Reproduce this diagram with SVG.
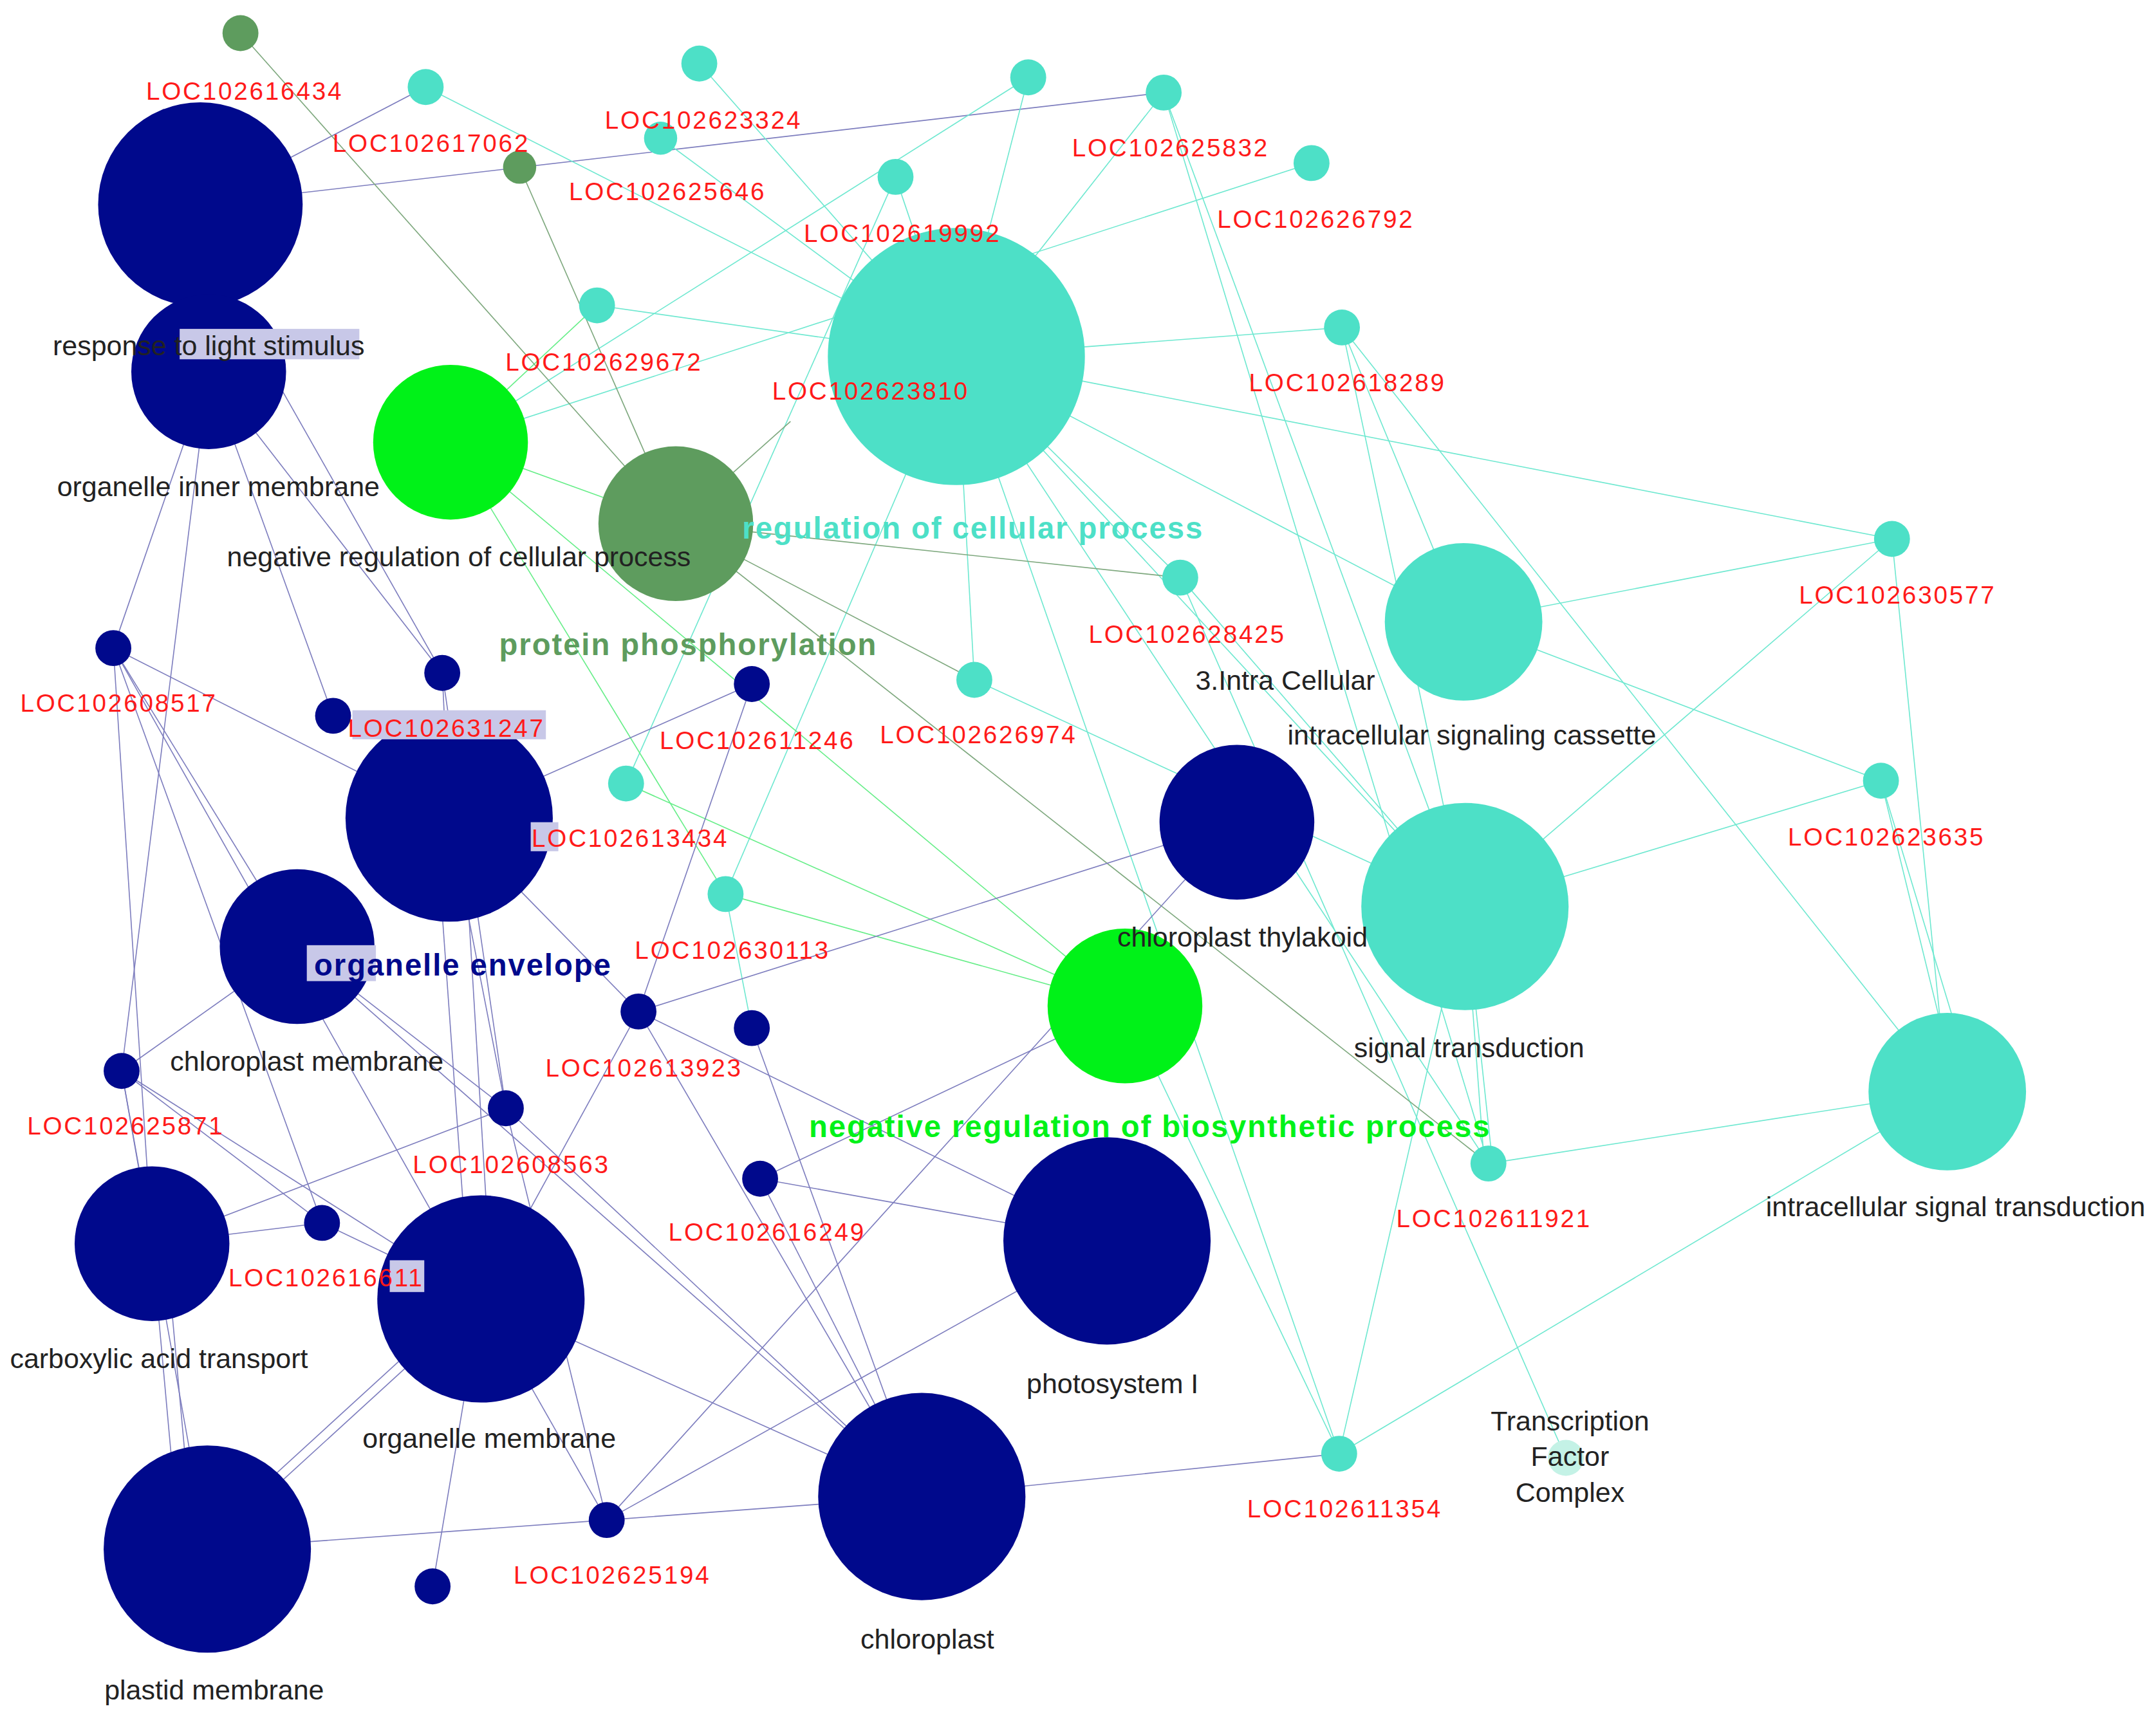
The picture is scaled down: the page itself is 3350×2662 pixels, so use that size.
<svg xmlns="http://www.w3.org/2000/svg" width="3350" height="2662" viewBox="0 0 3350 2662">
<style>
.n{fill:#00098c}.t{fill:#4de0c7}.g{fill:#00f218}.o{fill:#5e9c5e}.f{fill:#c4f2e6}
.en line{stroke-width:0.75;fill:none}
.ln{stroke:#7d7dbe}.lt{stroke:#6ee8d0}.lg{stroke:#66ee88}.lo{stroke:#7ea87e}
text{font-family:"Liberation Sans",Arial,sans-serif}
.r{fill:#ff1a1a;font-size:18px;letter-spacing:1.3px;text-anchor:middle}
.k{fill:#222;font-size:20px;text-anchor:middle}
.b{font-size:22px;font-weight:bold;letter-spacing:0.9px;text-anchor:middle}
</style>
<rect width="3350" height="2662" fill="#fff"/>
<g transform="scale(2.1474)">
<g id="connectors" class="en">
<line class="ln" x1="145" y1="148" x2="842" y2="67"/>
<line class="ln" x1="145" y1="148" x2="308" y2="63"/>
<line class="lt" x1="308" y1="63" x2="692" y2="258"/>
<line class="lt" x1="506" y1="46" x2="692" y2="258"/>
<line class="lt" x1="744" y1="56" x2="692" y2="258"/>
<line class="lt" x1="744" y1="56" x2="326" y2="320"/>
<line class="lt" x1="842" y1="67" x2="692" y2="258"/>
<line class="lt" x1="842" y1="67" x2="1060" y2="656"/>
<line class="lt" x1="842" y1="67" x2="1077" y2="842"/>
<line class="lt" x1="949" y1="118" x2="326" y2="320"/>
<line class="lt" x1="648" y1="128" x2="692" y2="258"/>
<line class="lt" x1="478" y1="100" x2="692" y2="258"/>
<line class="lt" x1="432" y1="221" x2="692" y2="258"/>
<line class="lt" x1="971" y1="237" x2="692" y2="258"/>
<line class="lt" x1="971" y1="237" x2="1059" y2="450"/>
<line class="lt" x1="971" y1="237" x2="1060" y2="656"/>
<line class="lt" x1="971" y1="237" x2="1409" y2="790"/>
<line class="lt" x1="692" y1="258" x2="1369" y2="390"/>
<line class="lt" x1="692" y1="258" x2="1059" y2="450"/>
<line class="lt" x1="692" y1="258" x2="854" y2="418"/>
<line class="lt" x1="692" y1="258" x2="705" y2="492"/>
<line class="lt" x1="692" y1="258" x2="525" y2="647"/>
<line class="lt" x1="692" y1="258" x2="1077" y2="842"/>
<line class="lt" x1="692" y1="258" x2="1060" y2="656"/>
<line class="lt" x1="692" y1="258" x2="969" y2="1052"/>
<line class="lt" x1="1369" y1="390" x2="1059" y2="450"/>
<line class="lt" x1="1369" y1="390" x2="1060" y2="656"/>
<line class="lt" x1="1369" y1="390" x2="1409" y2="790"/>
<line class="lt" x1="1361" y1="565" x2="1059" y2="450"/>
<line class="lt" x1="1361" y1="565" x2="1060" y2="656"/>
<line class="lt" x1="1361" y1="565" x2="1404" y2="740"/>
<line class="lt" x1="1361" y1="565" x2="1414" y2="740"/>
<line class="lt" x1="1409" y1="790" x2="1077" y2="842"/>
<line class="lt" x1="1409" y1="790" x2="969" y2="1052"/>
<line class="lt" x1="1060" y1="656" x2="1074" y2="842"/>
<line class="lt" x1="1060" y1="656" x2="1080" y2="842"/>
<line class="lt" x1="1060" y1="656" x2="969" y2="1052"/>
<line class="lt" x1="854" y1="418" x2="1060" y2="656"/>
<line class="lt" x1="854" y1="418" x2="1133" y2="1055"/>
<line class="lt" x1="705" y1="492" x2="1060" y2="656"/>
<line class="lt" x1="814" y1="728" x2="969" y2="1052"/>
<line class="lt" x1="453" y1="567" x2="648" y2="128"/>
<line class="lt" x1="525" y1="647" x2="544" y2="744"/>
<line class="lg" x1="814" y1="728" x2="453" y2="567"/>
<line class="lg" x1="814" y1="728" x2="525" y2="647"/>
<line class="lg" x1="814" y1="728" x2="326" y2="320"/>
<line class="lg" x1="326" y1="320" x2="432" y2="221"/>
<line class="lg" x1="326" y1="320" x2="489" y2="379"/>
<line class="lg" x1="326" y1="320" x2="525" y2="647"/>
<line class="lo" x1="174" y1="24" x2="489" y2="379"/>
<line class="lo" x1="376" y1="121" x2="489" y2="379"/>
<line class="lo" x1="489" y1="379" x2="572" y2="305"/>
<line class="lo" x1="489" y1="379" x2="854" y2="418"/>
<line class="lo" x1="489" y1="379" x2="1077" y2="842"/>
<line class="lo" x1="489" y1="379" x2="705" y2="492"/>
<line class="ln" x1="151" y1="269" x2="82" y2="469"/>
<line class="ln" x1="151" y1="269" x2="88" y2="775"/>
<line class="ln" x1="151" y1="269" x2="241" y2="518"/>
<line class="ln" x1="151" y1="269" x2="320" y2="487"/>
<line class="ln" x1="180" y1="240" x2="320" y2="487"/>
<line class="ln" x1="82" y1="469" x2="325" y2="592"/>
<line class="ln" x1="82" y1="469" x2="215" y2="685"/>
<line class="ln" x1="82" y1="469" x2="348" y2="940"/>
<line class="ln" x1="82" y1="469" x2="110" y2="900"/>
<line class="ln" x1="82" y1="469" x2="233" y2="885"/>
<line class="ln" x1="320" y1="487" x2="325" y2="592"/>
<line class="ln" x1="320" y1="487" x2="366" y2="802"/>
<line class="ln" x1="544" y1="495" x2="325" y2="592"/>
<line class="ln" x1="544" y1="495" x2="462" y2="732"/>
<line class="ln" x1="325" y1="592" x2="462" y2="732"/>
<line class="ln" x1="325" y1="592" x2="366" y2="802"/>
<line class="ln" x1="315" y1="592" x2="340" y2="940"/>
<line class="ln" x1="335" y1="592" x2="356" y2="940"/>
<line class="ln" x1="215" y1="685" x2="88" y2="775"/>
<line class="ln" x1="215" y1="685" x2="667" y2="1083"/>
<line class="ln" x1="215" y1="685" x2="366" y2="802"/>
<line class="ln" x1="88" y1="775" x2="110" y2="900"/>
<line class="ln" x1="88" y1="775" x2="233" y2="885"/>
<line class="ln" x1="88" y1="775" x2="348" y2="940"/>
<line class="ln" x1="88" y1="775" x2="150" y2="1121"/>
<line class="ln" x1="895" y1="595" x2="462" y2="732"/>
<line class="ln" x1="895" y1="595" x2="439" y2="1100"/>
<line class="ln" x1="462" y1="732" x2="348" y2="940"/>
<line class="ln" x1="462" y1="732" x2="667" y2="1083"/>
<line class="ln" x1="462" y1="732" x2="801" y2="898"/>
<line class="ln" x1="544" y1="744" x2="667" y2="1083"/>
<line class="ln" x1="366" y1="802" x2="110" y2="900"/>
<line class="ln" x1="366" y1="802" x2="667" y2="1083"/>
<line class="ln" x1="366" y1="802" x2="439" y2="1100"/>
<line class="ln" x1="550" y1="853" x2="801" y2="898"/>
<line class="ln" x1="550" y1="853" x2="667" y2="1083"/>
<line class="ln" x1="550" y1="853" x2="814" y2="728"/>
<line class="ln" x1="233" y1="885" x2="110" y2="900"/>
<line class="ln" x1="233" y1="885" x2="348" y2="940"/>
<line class="ln" x1="348" y1="940" x2="150" y2="1121"/>
<line class="ln" x1="338" y1="940" x2="140" y2="1121"/>
<line class="ln" x1="348" y1="940" x2="313" y2="1148"/>
<line class="ln" x1="348" y1="940" x2="439" y2="1100"/>
<line class="ln" x1="348" y1="940" x2="667" y2="1083"/>
<line class="ln" x1="110" y1="900" x2="130" y2="1121"/>
<line class="ln" x1="120" y1="900" x2="140" y2="1121"/>
<line class="ln" x1="150" y1="1121" x2="439" y2="1100"/>
<line class="ln" x1="439" y1="1100" x2="667" y2="1083"/>
<line class="ln" x1="439" y1="1100" x2="801" y2="898"/>
<line class="ln" x1="667" y1="1083" x2="969" y2="1052"/>
</g>
<g id="nodes">
<g id="n1"><circle class="o" cx="174" cy="24" r="13"/></g>
<g id="n2"><circle class="o" cx="376" cy="121" r="12"/></g>
<g id="n3"><circle class="t" cx="308" cy="63" r="13"/></g>
<g id="n4"><circle class="t" cx="506" cy="46" r="13"/></g>
<g id="n5"><circle class="t" cx="478" cy="100" r="12"/></g>
<g id="n6"><circle class="t" cx="744" cy="56" r="13"/></g>
<g id="n7"><circle class="t" cx="842" cy="67" r="13"/></g>
<g id="n8"><circle class="t" cx="949" cy="118" r="13"/></g>
<g id="n9"><circle class="t" cx="648" cy="128" r="13"/></g>
<g id="n10"><circle class="t" cx="432" cy="221" r="13"/></g>
<g id="n11"><circle class="t" cx="971" cy="237" r="13"/></g>
<g id="n12"><circle class="t" cx="854" cy="418" r="13"/></g>
<g id="n13"><circle class="t" cx="705" cy="492" r="13"/></g>
<g id="n14"><circle class="t" cx="1369" cy="390" r="13"/></g>
<g id="n15"><circle class="t" cx="1361" cy="565" r="13"/></g>
<g id="n16"><circle class="t" cx="453" cy="567" r="13"/></g>
<g id="n17"><circle class="t" cx="525" cy="647" r="13"/></g>
<g id="n18"><circle class="t" cx="1077" cy="842" r="13"/></g>
<g id="n19"><circle class="t" cx="969" cy="1052" r="13"/></g>
<g id="n20"><circle class="f" cx="1133" cy="1055" r="13"/></g>
<g id="reg"><circle class="t" cx="692" cy="258" r="93"/></g>
<g id="cassette"><circle class="t" cx="1059" cy="450" r="57"/></g>
<g id="signal"><circle class="t" cx="1060" cy="656" r="75"/></g>
<g id="intrasig"><circle class="t" cx="1409" cy="790" r="57"/></g>
<g id="negcell"><circle class="g" cx="326" cy="320" r="56"/></g>
<g id="negbio"><circle class="g" cx="814" cy="728" r="56"/></g>
<g id="phos"><circle class="o" cx="489" cy="379" r="56"/></g>
<g id="light"><circle class="n" cx="145" cy="148" r="74"/></g>
<g id="inner"><circle class="n" cx="151" cy="269" r="56"/></g>
<g id="envelope"><circle class="n" cx="325" cy="592" r="75"/></g>
<g id="chlmem"><circle class="n" cx="215" cy="685" r="56"/></g>
<g id="carbox"><circle class="n" cx="110" cy="900" r="56"/></g>
<g id="orgmem"><circle class="n" cx="348" cy="940" r="75"/></g>
<g id="plastid"><circle class="n" cx="150" cy="1121" r="75"/></g>
<g id="chloroplast"><circle class="n" cx="667" cy="1083" r="75"/></g>
<g id="psi"><circle class="n" cx="801" cy="898" r="75"/></g>
<g id="thylakoid"><circle class="n" cx="895" cy="595" r="56"/></g>
<g id="m1"><circle class="n" cx="82" cy="469" r="13"/></g>
<g id="m2"><circle class="n" cx="320" cy="487" r="13"/></g>
<g id="m3"><circle class="n" cx="241" cy="518" r="13"/></g>
<g id="m4"><circle class="n" cx="544" cy="495" r="13"/></g>
<g id="m5"><circle class="n" cx="88" cy="775" r="13"/></g>
<g id="m6"><circle class="n" cx="462" cy="732" r="13"/></g>
<g id="m7"><circle class="n" cx="544" cy="744" r="13"/></g>
<g id="m8"><circle class="n" cx="366" cy="802" r="13"/></g>
<g id="m9"><circle class="n" cx="550" cy="853" r="13"/></g>
<g id="m10"><circle class="n" cx="233" cy="885" r="13"/></g>
<g id="m11"><circle class="n" cx="439" cy="1100" r="13"/></g>
<g id="m12"><circle class="n" cx="313" cy="1148" r="13"/></g>
</g>
<g id="labels">
<rect x="130" y="238" width="130" height="22" fill="#c8c8e8"/>
<rect x="222" y="684" width="50" height="26" fill="#c8c8e8"/>
<rect x="255" y="514" width="140" height="21" fill="#c8c8e8"/>
<rect x="384" y="595" width="20" height="21" fill="#c8c8e8"/>
<rect x="282" y="912" width="25" height="23" fill="#c8c8e8"/>
<text class="r" x="177" y="72">LOC102616434</text>
<text class="r" x="312" y="110">LOC102617062</text>
<text class="r" x="509" y="93">LOC102623324</text>
<text class="r" x="483" y="145">LOC102625646</text>
<text class="r" x="847" y="113">LOC102625832</text>
<text class="r" x="952" y="165">LOC102626792</text>
<text class="r" x="653" y="175">LOC102619992</text>
<text class="r" x="437" y="268">LOC102629672</text>
<text class="r" x="630" y="289">LOC102623810</text>
<text class="r" x="975" y="283">LOC102618289</text>
<text class="r" x="1373" y="437">LOC102630577</text>
<text class="r" x="859" y="465">LOC102628425</text>
<text class="r" x="86" y="515">LOC102608517</text>
<text class="r" x="323" y="533">LOC102631247</text>
<text class="r" x="548" y="542">LOC102611246</text>
<text class="r" x="708" y="538">LOC102626974</text>
<text class="r" x="1365" y="612">LOC102623635</text>
<text class="r" x="456" y="613">LOC102613434</text>
<text class="r" x="530" y="694">LOC102630113</text>
<text class="r" x="466" y="779">LOC102613923</text>
<text class="r" x="91" y="821">LOC102625871</text>
<text class="r" x="370" y="849">LOC102608563</text>
<text class="r" x="555" y="898">LOC102616249</text>
<text class="r" x="236" y="931">LOC102616611</text>
<text class="r" x="1081" y="888">LOC102611921</text>
<text class="r" x="973" y="1098">LOC102611354</text>
<text class="r" x="443" y="1146">LOC102625194</text>
<text class="k" x="151" y="257">response to light stimulus</text>
<text class="k" x="158" y="359">organelle inner membrane</text>
<text class="k" x="332" y="410">negative regulation of cellular process</text>
<text class="k" x="930" y="499">3.Intra Cellular</text>
<text class="k" x="1065" y="539">intracellular signaling cassette</text>
<text class="k" x="222" y="775">chloroplast membrane</text>
<text class="k" x="899" y="685">chloroplast thylakoid</text>
<text class="k" x="1063" y="765">signal transduction</text>
<text class="k" x="1415" y="880">intracellular signal transduction</text>
<text class="k" x="115" y="990">carboxylic acid transport</text>
<text class="k" x="354" y="1048">organelle membrane</text>
<text class="k" x="805" y="1008">photosystem I</text>
<text class="k" x="671" y="1193">chloroplast</text>
<text class="k" x="155" y="1230">plastid membrane</text>
<text class="k" x="1136" y="1035">Transcription</text>
<text class="k" x="1136" y="1061">Factor</text>
<text class="k" x="1136" y="1087">Complex</text>
<text class="b" x="704" y="390" fill="#4de0c7">regulation of cellular process</text>
<text class="b" x="498" y="474" fill="#5e9c5e">protein phosphorylation</text>
<text class="b" x="335" y="706" fill="#00098c">organelle envelope</text>
<text class="b" x="832" y="823" fill="#00f218">negative regulation of biosynthetic process</text>
</g>
</g>
</svg>
